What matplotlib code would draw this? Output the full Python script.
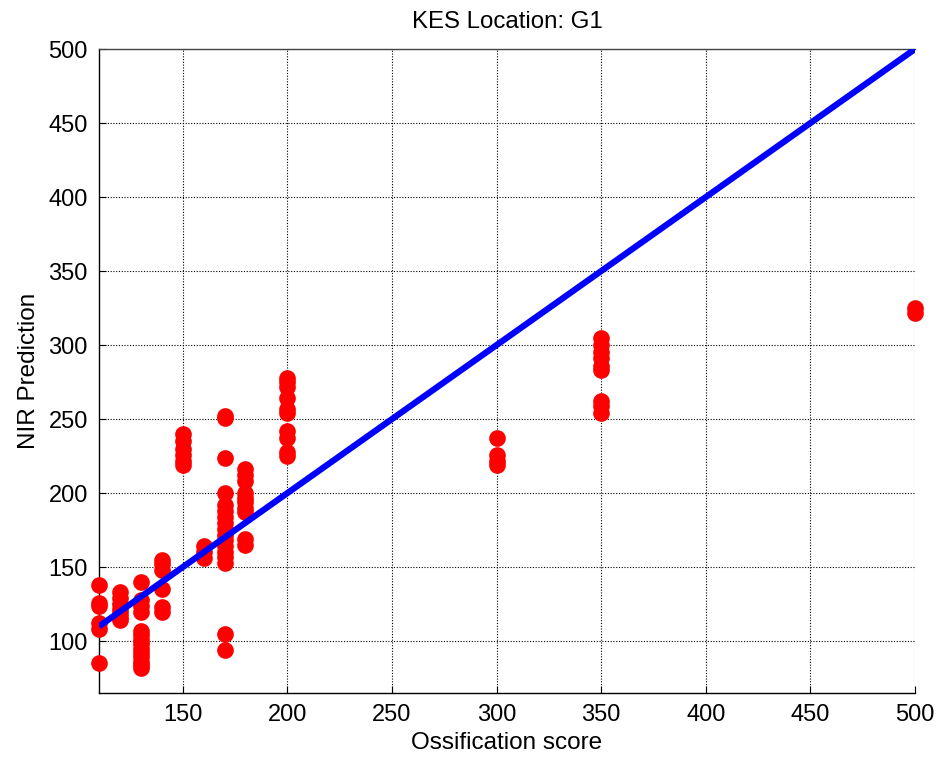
import matplotlib
matplotlib.use("Agg")
import matplotlib.pyplot as plt
import numpy as np

plt.rcParams['font.family'] = ['Liberation Sans', 'DejaVu Sans']

# Data: ossification score -> NIR predictions
scores = [110, 120, 130, 140, 150, 160, 170, 180, 200, 300, 350, 500]
predictions = [
    [138, 126, 124, 112, 108, 85],
    [133, 129, 125, 122, 119, 116, 114],
    [140, 128, 124, 120, 107, 104, 101, 98, 95, 92, 89, 86, 84, 82],
    [155, 152, 148, 135, 123, 120],
    [240, 235, 230, 226, 222, 219],
    [164, 160, 156],
    [252, 251, 224, 200, 192, 188, 184, 180, 176, 172, 168, 164, 160, 157, 153, 105, 94],
    [216, 212, 208, 200, 197, 194, 190, 187, 169, 165],
    [278, 275, 272, 264, 257, 254, 242, 237, 228, 225],
    [237, 226, 222, 219],
    [305, 300, 295, 291, 286, 283, 262, 259, 254],
    [325, 322],
]
line_x = [110, 500]
line_y = [110, 500]

xticks = [150, 200, 250, 300, 350, 400, 450, 500]
yticks = [100, 150, 200, 250, 300, 350, 400, 450, 500]

fig = plt.figure(figsize=(9.41, 7.59), dpi=100)
ax = fig.add_axes([0.1052, 0.0870, 0.8672, 0.8484])

xs = np.concatenate([[s] * len(p) for s, p in zip(scores, predictions)])
ys = np.concatenate(predictions)
ax.plot(xs, ys, 'o', color='#ff0000', markersize=12, markeredgewidth=0,
        clip_on=False, zorder=3)
ax.plot(line_x, line_y, '-', color='#0000ff', linewidth=4.5, zorder=4,
        solid_capstyle='butt')

ax.set_xlim(110, 500)
ax.set_ylim(65, 500)
ax.set_xticks(xticks)
ax.set_yticks(yticks)
ax.grid(True, color='black', linestyle=(0, (1, 1.5)), linewidth=0.8)
ax.set_axisbelow(True)
ax.tick_params(direction='in', length=5, labelsize=17, pad=8)
ax.spines['right'].set_visible(False)
for s in ['left', 'bottom', 'top']:
    ax.spines[s].set_linewidth(1.0)
ax.spines['top'].set_color('#444444')

ax.set_xlabel('Ossification score', fontsize=17.5, labelpad=4)
ax.set_ylabel('NIR Prediction', fontsize=17.5, labelpad=6)
ax.set_title('KES Location: G1', fontsize=17.3, pad=15)

fig.savefig('out.png', dpi=100)
